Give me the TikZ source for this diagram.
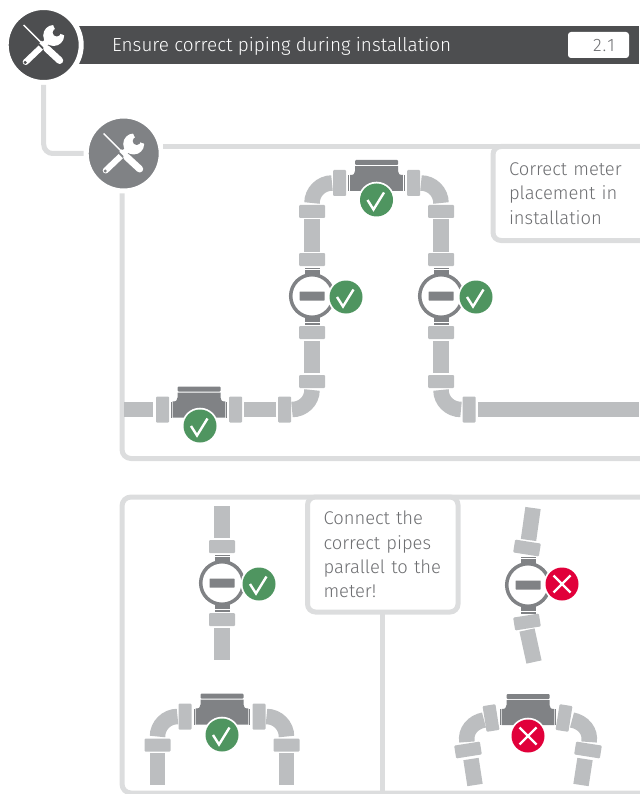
\documentclass[tikz,border=0pt]{standalone}
\usepackage{fontspec}
\setmainfont{Fira Sans}[UprightFont=* Light]
\definecolor{barcol}{HTML}{4D4E50}
\definecolor{metercol}{HTML}{808285}
\definecolor{pipecol}{HTML}{BCBEC0}
\definecolor{railcol}{HTML}{DCDDDE}
\definecolor{textcol}{HTML}{6D6E71}
\definecolor{okcol}{HTML}{4F9560}
\definecolor{badcol}{HTML}{E1003A}
\tikzset{
  rail/.style={draw=railcol,line width=5pt},
  pipeline/.style={draw=pipecol,line width=15.5pt},
  callout/.style={rail,fill=white,rounded corners=8pt,anchor=north west,outer sep=0pt,inner xsep=16pt,inner ysep=0pt,
    align=left,text=textcol,font=\fontsize{18.4}{24.3}\selectfont},
  toolring/.style={circle,fill=#1,draw=white,line width=5pt,minimum size=75pt,inner sep=0pt},
  flangeh/.pic={\fill[pipecol,rounded corners=1pt] (-13,-6.5) rectangle (13,6.5);},
  flangev/.pic={\fill[pipecol,rounded corners=1pt] (-6.5,-13) rectangle (6.5,13);},
  roundmeter/.pic={
    \fill[metercol] (-7.5,-28.5) rectangle (7.5,-27.2);
    \fill[metercol] (-7.5,-26) rectangle (7.5,-20);
    \fill[metercol] (-7.5,27.2) rectangle (7.5,28.5);
    \fill[metercol] (-7.5,20) rectangle (7.5,26);
    \draw[metercol,fill=white,line width=3.5pt] (0,0) circle (21.3);
    \fill[metercol,rounded corners=0.5pt] (-12.5,-4.5) rectangle (12.5,4.5);
  },
  flatmeter/.pic={
    \fill[metercol,rounded corners=1pt] (-21.5,-23) rectangle (21.5,-18);
    \fill[metercol] (-21.5,-16.8) -- (21.5,-16.8) -- (21.5,-12) .. controls (21.5,-9) and (23,-8) .. (26.3,-8)
      -- (26.3,8) -- (-26.3,8) -- (-26.3,-8) .. controls (-23,-8) and (-21.5,-9) .. (-21.5,-12) -- cycle;
    \fill[metercol] (-28.2,-8) rectangle (-27.2,8);
    \fill[metercol] (27.2,-8) rectangle (28.2,8);
  },
  archpipe/.pic={
    \pic at (0,0) {flatmeter};
    \pic at (-37,0) {flangev};
    \pic at (37,0) {flangev};
    \draw[pipeline] (-44.5,0) .. controls (-55.5,0) and (-64.5,9) .. (-64.5,20);
    \draw[pipeline] (44.5,0) .. controls (55.5,0) and (64.5,9) .. (64.5,20);
    \pic at (-64.5,28.5) {flangeh};
    \pic at (64.5,28.5) {flangeh};
    \draw[pipeline] (-64.5,36.5) -- (-64.5,68.5);
    \draw[pipeline] (64.5,36.5) -- (64.5,68.5);
  },
  okmark/.pic={
    \fill[white] (0,0) circle (18.3);
    \fill[okcol] (0,0) circle (16.5);
    \draw[white,line width=2.4pt] (-9,0) -- (-3,9.5) -- (7.5,-7.5);
  },
  badmark/.pic={
    \fill[white] (0,0) circle (18.3);
    \fill[badcol] (0,0) circle (16.5);
    \draw[white,line width=2.4pt] (-8.5,-8.5) -- (8.5,8.5) (-8.5,8.5) -- (8.5,-8.5);
  },
  toolmark/.pic={
    \fill[white] (10,-9.5) circle (10.5);
    \fill[#1] (13,-12.5) circle (4);
    \fill[#1] (13,-12.5) -- (8.5,-22) -- (22,-22) -- (23,-9) -- cycle;
    \draw[white,line width=6pt,line cap=round] (-18,17) -- (3,-3);
    \fill[#1] (-18.5,17.5) circle (1.7);
    \draw[#1,line width=3.5pt] (-13,-9.5) -- (13,15);
    \draw[white,line width=1.4pt] (-20,-20) -- (0,0);
    \draw[white,line width=3.6pt] (-3,-3) -- (2,2);
    \draw[white,line width=7pt,line cap=round] (3,3.5) -- (16,15.5);
  },
}
\begin{document}
\begin{tikzpicture}[x=1pt,y=-1pt]
\useasboundingbox (0,0) rectangle (639,794);
\fill[barcol] (50,26) rectangle (639,64);
\fill[white,rounded corners=3pt] (568,32) rectangle (629,58);
\node[text=textcol,font=\fontsize{18}{20}\selectfont] (secno) at (604,45.5) {2\kern1pt.\kern1pt1};
\node[anchor=west,text=white,inner sep=0pt,font=\fontsize{18.9}{22}\selectfont] (title) at (112,46) {Ensure correct piping during installation};
\node[toolring=barcol] (hdtool) at (43.7,45) {};
\node[toolring=metercol] (subtool) at (123.7,153.5) {};
\pic at (hdtool) {toolmark=barcol};
\pic at (subtool) {toolmark=metercol};
\draw[rail,rounded corners=9pt] (hdtool.south) -- (hdtool.south |- subtool.west) -- (subtool.west);
\coordinate (toprail) at (163,146.5);
\coordinate (toprailend) at (645,146.5);
\draw[rail] (toprail) -- (toprailend);
\coordinate (botrailend) at (645,458.5);
\draw[rail,rounded corners=9pt] (subtool.south -| 122,0) -- (122,458.5) -- (botrailend);
\draw[rail,rounded corners=9pt] (122,497) rectangle (650,793);
\node[callout,text width=128pt,minimum height=94pt] (placenote) at (493,146.5) {Correct meter\\placement in\\installation};
\node[callout,text width=118.5pt,minimum height=115pt] (parnote) at (307.5,497) {Connect the\\correct pipes\\parallel to the\\meter!};
\coordinate (divend) at (parnote.south |- 0,800);
\draw[rail] (parnote.south) -- (divend);

\pic at (376.5,183) {archpipe};
\pic at (376.5,200) {okmark};
\draw[pipeline] (312,219) -- (312,251);
\pic at (312,259.5) {flangeh};
\pic at (312,296) {roundmeter};
\pic at (346,297) {okmark};
\pic at (312,332.5) {flangeh};
\draw[pipeline] (312,341) -- (312,373);
\pic at (312,381.5) {flangeh};
\draw[pipeline] (312,390) .. controls (312,401) and (303,409.5) .. (292,409.5);
\pic at (284.5,409.5) {flangev};
\draw[pipeline] (276,409.5) -- (244,409.5);
\pic at (235.5,409.5) {flangev};
\pic at (199,409.5) {flatmeter};
\pic at (200,426) {okmark};
\pic at (162.5,409.5) {flangev};
\draw[pipeline] (153,409.5) -- (124,409.5);
\draw[pipeline] (441,219) -- (441,251);
\pic at (441,259.5) {flangeh};
\pic at (441,296) {roundmeter};
\pic at (476,297) {okmark};
\pic at (441,332.5) {flangeh};
\draw[pipeline] (441,341) -- (441,373);
\pic at (441,381.5) {flangeh};
\draw[pipeline] (441,390) .. controls (441,401) and (450,409.5) .. (461,409.5);
\pic at (469,409.5) {flangev};
\draw[pipeline] (478,409.5) -- (639,409.5);

\draw[pipeline] (222,506) -- (222,538);
\pic at (222,546.5) {flangeh};
\pic at (222,583) {roundmeter};
\pic at (259,584) {okmark};
\pic at (222,619.5) {flangeh};
\draw[pipeline] (222,628) -- (222,660);
\pic at (222,716.5) {archpipe};
\pic at (222,735) {okmark};

\draw[pipeline] (533,508) -- (528.5,540);
\pic[rotate=-9] at (527,548) {flangeh};
\pic at (528,585) {roundmeter};
\pic at (562,584) {badmark};
\pic[rotate=9] at (527,622) {flangeh};
\draw[pipeline] (527,630) -- (534,662);
\pic at (528,717) {flatmeter};
\pic at (528,736) {badmark};
\pic[rotate=9] at (491,718) {flangev};
\pic[rotate=-9] at (564,718) {flangev};
\draw[pipeline] (484,720) .. controls (473,722) and (465,731) .. (467,742);
\draw[pipeline] (572,720) .. controls (583,722) and (591,731) .. (589,742);
\pic[rotate=9] at (468,750) {flangeh};
\pic[rotate=-9] at (588,750) {flangeh};
\draw[pipeline] (471,759) -- (475,785);
\draw[pipeline] (585,759) -- (581,785);
\end{tikzpicture}
\end{document}
